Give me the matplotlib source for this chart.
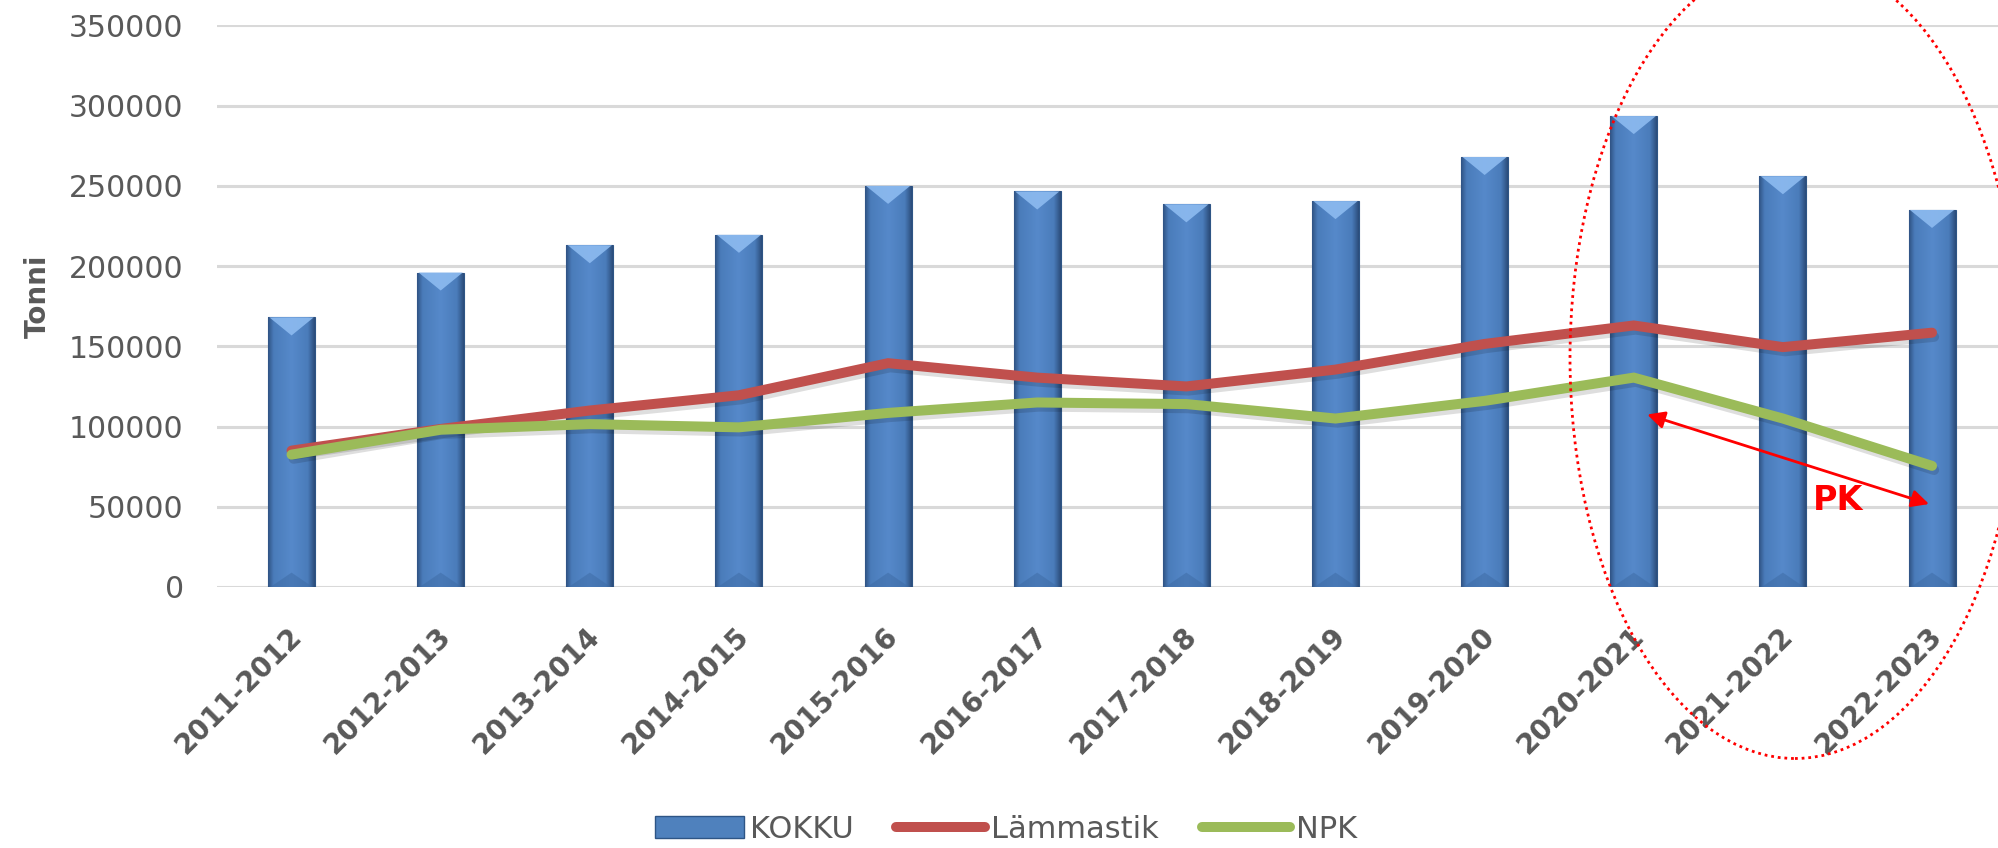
import numpy as np
import matplotlib
matplotlib.use("Agg")
import matplotlib.pyplot as plt
from matplotlib.patches import Ellipse, Polygon, Patch
from matplotlib.lines import Line2D
from matplotlib import patheffects as pe
from matplotlib.transforms import ScaledTranslation
from matplotlib.colors import LinearSegmentedColormap

# ---------------- data ----------------
seasons = ['2011-2012', '2012-2013', '2013-2014', '2014-2015', '2015-2016', '2016-2017',
           '2017-2018', '2018-2019', '2019-2020', '2020-2021', '2021-2022', '2022-2023']
kokku = [168000, 196000, 213000, 219500, 250000, 246500, 238500, 240500, 268000, 293500, 256000, 235000]
lammastik = [85000, 98500, 110000, 119500, 139500, 130500, 125000, 135500, 151500, 163000, 149500, 158500]
npk = [82500, 98000, 101500, 99500, 108500, 115000, 114000, 105000, 116000, 130500, 105000, 75500]
y_ticks = [0, 50000, 100000, 150000, 200000, 250000, 300000, 350000]
series_names = ['KOKKU', 'Lämmastik', 'NPK']
y_title = 'Tonni'
pk_label = 'PK'
pk_arrow_start = (9.09, 107500)
pk_arrow_end = (10.98, 51700)
pk_text_pos = (10.37, 54200)

# ---------------- style ----------------
BLUE = '#4F81BD'
RED = '#C0504D'
GREEN = '#9BBB59'
GRAY = '#595959'

fig = plt.figure(figsize=(19.98, 8.48), dpi=100)
ax = fig.add_axes([0.1086, 0.3078, 0.8957, 0.6622])

x = np.arange(len(seasons))
ax.set_xlim(-0.5, len(seasons) - 0.5)
ax.set_ylim(y_ticks[0], y_ticks[-1])
ax.set_yticks(y_ticks)
ax.set_yticklabels([str(v) for v in y_ticks], fontsize=21.5, color=GRAY)
ax.yaxis.grid(True, color='#D9D9D9', lw=2.2)
ax.set_axisbelow(True)
for s in ax.spines.values():
    s.set_visible(False)
ax.tick_params(axis='both', length=0)
ax.tick_params(axis='y', pad=24)

# bars with bevel-like shading
bars = ax.bar(x, kokku, width=0.315, color=BLUE, edgecolor='#2E5585', linewidth=0.8, zorder=2)
cmap = LinearSegmentedColormap.from_list(
    'bevel', [(0.0, '#2F5283'), (0.12, '#4A7CBA'), (0.5, '#5689CA'), (0.85, '#4A7CBA'), (1.0, '#2B4C7A')])
grad = np.linspace(0, 1, 256).reshape(1, -1)
px_to_data = (y_ticks[-1] - y_ticks[0]) / (0.6622 * 848)
for b in bars:
    x0, w, h = b.get_x(), b.get_width(), b.get_height()
    im = ax.imshow(grad, cmap=cmap, extent=[x0, x0 + w, 0, h], aspect='auto', zorder=2.1)
    im.set_clip_path(b)
    depth = 18 * px_to_data
    tri = Polygon([[x0 + 0.03 * w, h], [x0 + 0.97 * w, h], [x0 + 0.5 * w, h - depth]],
                  closed=True, facecolor='#8DBBF0', edgecolor='none', alpha=0.9, zorder=2.2)
    ax.add_patch(tri)
    btri = Polygon([[x0 + 0.05 * w, 0], [x0 + 0.95 * w, 0], [x0 + 0.5 * w, depth * 0.8]],
                   closed=True, facecolor='#3D6AA3', edgecolor='none', alpha=0.5, zorder=2.2)
    ax.add_patch(btri)
ax.set_xlim(-0.5, len(seasons) - 0.5)
ax.set_ylim(y_ticks[0], y_ticks[-1])

shadow = [pe.SimpleLineShadow(offset=(1.5, -3), shadow_color='black', alpha=0.13), pe.Normal()]
ax.plot(x, lammastik, color=RED, lw=7.2, solid_capstyle='round', solid_joinstyle='miter',
        zorder=3, path_effects=shadow)
ax.plot(x, npk, color=GREEN, lw=7.2, solid_capstyle='round', solid_joinstyle='miter',
        zorder=3.1, path_effects=shadow)

# x tick labels
ax.set_xticks(x)
ax.set_xticklabels(seasons, rotation=45, ha='right', va='center', rotation_mode='anchor',
                   fontsize=20, fontweight='bold', color=GRAY)
ax.tick_params(axis='x', pad=32)
offset = ScaledTranslation(0.06, 0, fig.dpi_scale_trans)
for lbl in ax.get_xticklabels():
    lbl.set_transform(lbl.get_transform() + offset)

# y label
ax.set_ylabel(y_title, fontsize=20, fontweight='bold', color=GRAY)
ax.yaxis.set_label_coords(-0.092, 0.518)

# annotation: arrow + PK
ax.annotate('', xy=pk_arrow_end, xytext=pk_arrow_start,
            arrowprops=dict(arrowstyle='<|-|>', color='#FF0000', lw=2, mutation_scale=26,
                            shrinkA=0, shrinkB=0), zorder=5)
ax.text(pk_text_pos[0], pk_text_pos[1], pk_label, color='#FF0000', fontsize=24,
        fontweight='bold', ha='center', va='center', zorder=6)

# dotted ellipse (figure coordinates)
ell = Ellipse((1795 / 1998, 490 / 848), 450 / 1998, 801 / 848, transform=fig.transFigure,
              fill=False, edgecolor='#FF0000', lw=2, linestyle=(0, (1, 1.4)), zorder=10)
fig.add_artist(ell)

# legend
handles = [Patch(facecolor=BLUE, edgecolor='#2E5585'),
           Line2D([0], [0], color=RED, lw=7.2, solid_capstyle='round'),
           Line2D([0], [0], color=GREEN, lw=7.2, solid_capstyle='round')]
leg = fig.legend(handles, series_names, loc='center', bbox_to_anchor=(0.5036, 0.022),
                 bbox_transform=fig.transFigure, ncol=3, frameon=False, fontsize=22,
                 handlelength=2.9, handleheight=0.75, handletextpad=0.2, columnspacing=1.4,
                 borderpad=0)
for t in leg.get_texts():
    t.set_color(GRAY)

fig.savefig('out.png', dpi=100)
